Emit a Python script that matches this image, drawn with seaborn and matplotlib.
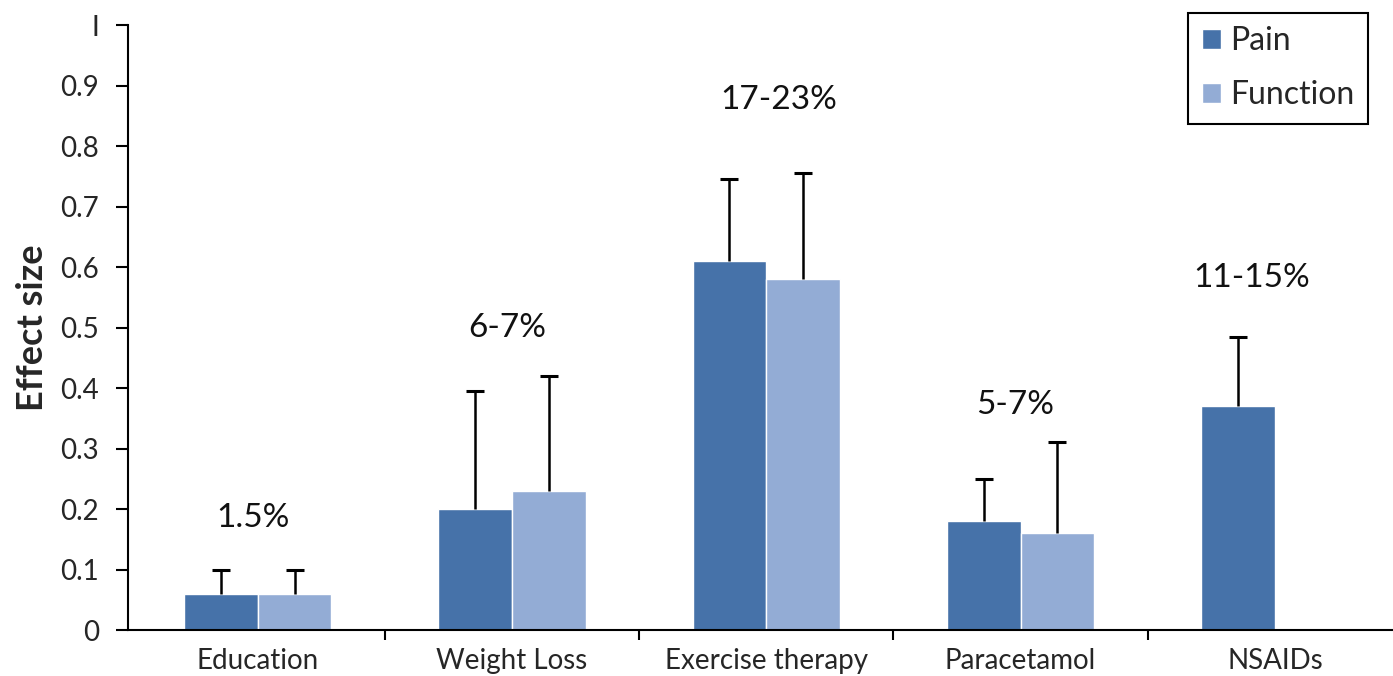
import numpy as np
import pandas as pd
import matplotlib
matplotlib.use("Agg")
import matplotlib.pyplot as plt
import seaborn as sns

# Data
categories = ["Education", "Weight Loss", "Exercise therapy", "Paracetamol", "NSAIDs"]
pain = [0.06, 0.20, 0.61, 0.18, 0.37]
pain_upper = [0.10, 0.395, 0.745, 0.25, 0.485]
function = [0.06, 0.23, 0.58, 0.16, np.nan]
function_upper = [0.10, 0.42, 0.755, 0.31, np.nan]
labels = ["1.5%", "6-7%", "17-23%", "5-7%", "11-15%"]
label_x = [-0.02, 0.98, 2.05, 2.98, 3.91]
label_y = [0.185, 0.50, 0.876, 0.372, 0.582]
y_ticks = [0, 0.1, 0.2, 0.3, 0.4, 0.5, 0.6, 0.7, 0.8, 0.9, 1]
y_tick_labels = ["0", "0.1", "0.2", "0.3", "0.4", "0.5", "0.6", "0.7", "0.8", "0.9", "I"]

df = pd.DataFrame({
    "category": categories * 2,
    "measure": ["Pain"] * 5 + ["Function"] * 5,
    "value": pain + function,
    "upper": pain_upper + function_upper,
})

sns.set_style("white")
plt.rcParams["font.family"] = ["Lato", "DejaVu Sans"]

fig = plt.figure(figsize=(13.93, 6.76), dpi=100)
# right edge runs slightly past the figure, as in the original
ax = fig.add_axes([0.0919, 0.068, 0.9146, 0.895])

palette = {"Pain": "#4672a9", "Function": "#93acd5"}
sns.barplot(data=df, x="category", y="value", hue="measure", palette=palette,
            width=0.58, gap=0, saturation=1, errorbar=None, ax=ax, legend=True)

# one-sided error bars: stem from bar top plus a cap at the upper end only
for cont, meas in zip(ax.containers, ["Pain", "Function"]):
    sub = df[df["measure"] == meas].reset_index(drop=True)
    for bar, (_, row) in zip(cont, sub.iterrows()):
        if np.isnan(row["value"]):
            continue
        xc = bar.get_x() + bar.get_width() / 2
        ax.vlines(xc, row["value"], row["upper"], color="black", linewidth=1.8, zorder=3)
        ax.plot([xc], [row["upper"]], marker="_", markersize=13, markeredgewidth=2.2,
                color="black", zorder=3)

for i, t in enumerate(labels):
    ax.text(label_x[i], label_y[i], t, ha="center", va="center", fontsize=24, color="#111111")

ax.set_xlim(-0.51, 4.5)
ax.set_ylim(0, 1)
ax.set_yticks(y_ticks)
ax.set_yticklabels(y_tick_labels)
ax.set_xticks(range(5))
ax.set_xticklabels(categories)
ax.set_xticks(np.arange(0.5, 4.5, 1), minor=True)
ax.tick_params(axis="x", which="major", length=0, pad=13, labelsize=20)
ax.tick_params(axis="x", which="minor", length=7, width=1.5, direction="out", color="black", bottom=True)
ax.tick_params(axis="y", length=9, width=1.5, direction="out", color="black", left=True, pad=12,
               labelsize=20)
ax.set_xlabel("")
ax.set_ylabel("Effect size", fontsize=26, fontweight="bold", labelpad=8)

sns.despine(ax=ax)
for s in ["left", "bottom"]:
    ax.spines[s].set_color("black")
    ax.spines[s].set_linewidth(1.5)

leg = ax.legend(loc="upper right", bbox_to_anchor=(0.982, 0.981), bbox_transform=fig.transFigure,
                borderaxespad=0, fontsize=23, frameon=True, fancybox=False, edgecolor="black",
                handlelength=0.6, handleheight=0.6, handletextpad=0.3, borderpad=0.42,
                labelspacing=0.75)
leg.get_frame().set_linewidth(1.5)
leg.get_frame().set_alpha(1)

fig.savefig("out.png", dpi=100)
